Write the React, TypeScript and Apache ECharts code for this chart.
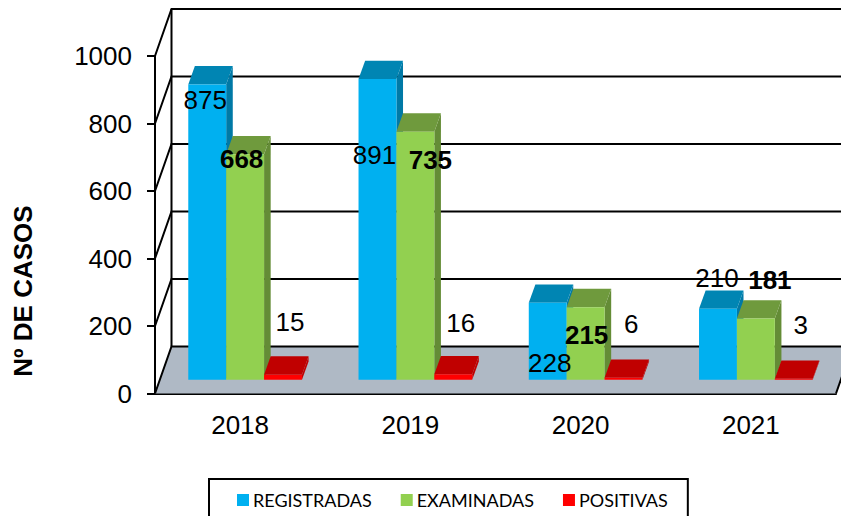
import React, { useEffect, useRef } from "react";
import * as echarts from "echarts";

const categories = ["2018", "2019", "2020", "2021"];
const registradas = [875, 891, 228, 210];
const examinadas = [668, 735, 215, 181];
const positivas = [15, 16, 6, 3];
const yTicks = [0, 200, 400, 600, 800, 1000];

// Manual label displacements (px) from the top centre of each bar's front face.
const regLabelOffsets = [[-2, 16], [-3, 76], [2, 60], [-1, -31]];
const exaLabelOffsets = [[-3.5, 4.5], [15, 28.5], [1, 28], [14, -38.6]];
const posLabelOffsets = [[7, -52.5], [7.5, -51.5], [7.7, -54], [7, -53.7]];

const BAR_W = 37.9;
const DEPTH_X = 6.6;
const DEPTH_Y = 18.3;
const BAR_SHIFT_X = 5;
const BAR_SHIFT_Y = 13.8;
const WALL_X = 16.5;
const WALL_Y = 47;
const LABEL_FONT = 'Liberation Sans, Arial, sans-serif';

function barSeries(
  name: string,
  values: number[],
  slot: number,
  colors: { front: string; top: string; side: string },
  offsets: number[][],
  bold: boolean
) {
  return {
    name,
    type: "custom",
    clip: false,
    itemStyle: { color: colors.front },
    encode: { x: 0, y: 1 },
    data: values.map((v, i) => [i, v]),
    renderItem: (params: any, api: any) => {
      const i = api.value(0);
      const v = api.value(1);
      const base = api.coord([i, 0]);
      const head = api.coord([i, v]);
      const x0 = base[0] + BAR_SHIFT_X + (slot - 1.5) * BAR_W;
      const x1 = x0 + BAR_W;
      const yb = base[1] - BAR_SHIFT_Y;
      const yt = head[1] - BAR_SHIFT_Y;
      const off = offsets[i];
      return {
        type: "group",
        children: [
          {
            type: "polygon",
            shape: { points: [[x1, yt], [x1 + DEPTH_X, yt - DEPTH_Y], [x1 + DEPTH_X, yb - DEPTH_Y], [x1, yb]] },
            style: { fill: colors.side },
          },
          {
            type: "polygon",
            shape: { points: [[x0, yt], [x0 + DEPTH_X, yt - DEPTH_Y], [x1 + DEPTH_X, yt - DEPTH_Y], [x1, yt]] },
            style: { fill: colors.top },
          },
          { type: "rect", shape: { x: x0, y: yt, width: BAR_W, height: yb - yt }, style: { fill: colors.front } },
          {
            type: "text",
            z2: 20,
            style: {
              text: String(v),
              x: (x0 + x1) / 2 + off[0],
              y: yt + off[1],
              fill: "#000",
              fontFamily: LABEL_FONT,
              fontSize: 26,
              fontWeight: bold ? "bold" : "normal",
              align: "center",
              verticalAlign: "middle",
            },
          },
        ],
      };
    },
  };
}

export default function App() {
  const ref = useRef<HTMLDivElement>(null);
  useEffect(() => {
    document.body.style.margin = "0";
    const chart = echarts.init(ref.current!, null, { renderer: "svg" });
    const axisText = { color: "#000", fontFamily: LABEL_FONT, fontSize: 26 };
    chart.setOption({
      animation: false,
      backgroundColor: "#fff",
      grid: { left: 155, right: 5, top: 56, bottom: 122.5, containLabel: false },
      xAxis: {
        type: "category",
        data: categories,
        axisLine: { lineStyle: { color: "#000", width: 2 } },
        axisTick: { show: false },
        axisLabel: { ...axisText, margin: 18 },
        splitLine: { show: false },
      },
      yAxis: {
        type: "value",
        min: 0,
        max: 1000,
        interval: 200,
        axisLine: { show: true, lineStyle: { color: "#000", width: 2 } },
        axisTick: { show: true, length: 8, lineStyle: { color: "#000", width: 2 } },
        axisLabel: { ...axisText, margin: 23, formatter: (v: number) => String(v) },
        splitLine: { show: false },
      },
      legend: {
        left: 209,
        top: 479,
        padding: [12, 20, 12, 28],
        itemWidth: 12,
        itemHeight: 12,
        itemGap: 29,
        icon: "rect",
        borderColor: "#000",
        borderWidth: 2,
        textStyle: { color: "#000", fontFamily: "Lato", fontSize: 18, padding: [0, 0, 0, -1] },
        data: ["REGISTRADAS", "EXAMINADAS", "POSITIVAS"],
      },
      graphic: [
        {
          type: "text",
          x: 22.5,
          y: 291,
          rotation: Math.PI / 2,
          style: {
            text: "Nº DE CASOS",
            fill: "#000",
            fontFamily: LABEL_FONT,
            fontSize: 26,
            fontWeight: "bold",
            align: "center",
            verticalAlign: "middle",
          },
        },
      ],
      series: [
        {
          name: "estructura",
          type: "custom",
          clip: false,
          encode: { x: 0, y: 1 },
          data: yTicks.map((t) => [0, t]),
          renderItem: (params: any, api: any) => {
            const y = api.coord([0, api.value(1)])[1];
            const cs = params.coordSys;
            const left = cs.x;
            const right = cs.x + cs.width;
            const line = { stroke: "#000", lineWidth: 2, fill: "none" };
            const children: any[] = [];
            if (api.value(1) === 0) {
              children.push({
                type: "polygon",
                shape: { points: [[left, y], [left + WALL_X, y - WALL_Y], [right + WALL_X, y - WALL_Y], [right, y]] },
                style: { fill: "#afb9c5" },
                z2: -5,
              });
              children.push({
                type: "line",
                shape: { x1: left + WALL_X, y1: y - WALL_Y, x2: left + WALL_X, y2: cs.y - WALL_Y },
                style: line,
              });
              children.push({
                type: "line",
                shape: { x1: right, y1: y, x2: right + WALL_X, y2: y - WALL_Y },
                style: line,
              });
            }
            children.push({
              type: "polyline",
              shape: { points: [[left, y], [left + WALL_X, y - WALL_Y], [right + WALL_X, y - WALL_Y]] },
              style: line,
            });
            return { type: "group", children };
          },
        },
        barSeries("REGISTRADAS", registradas, 0, { front: "#00b0f0", top: "#0085b3", side: "#0079a6" }, regLabelOffsets, false),
        barSeries("EXAMINADAS", examinadas, 1, { front: "#92d050", top: "#6f9a3d", side: "#648c36" }, exaLabelOffsets, true),
        barSeries("POSITIVAS", positivas, 2, { front: "#ff0000", top: "#c00000", side: "#c00000" }, posLabelOffsets, false),
      ],
    });
    return () => chart.dispose();
  }, []);
  return <div ref={ref} style={{ width: 841, height: 516, position: "absolute", left: 0, top: 0 }} />;
}
